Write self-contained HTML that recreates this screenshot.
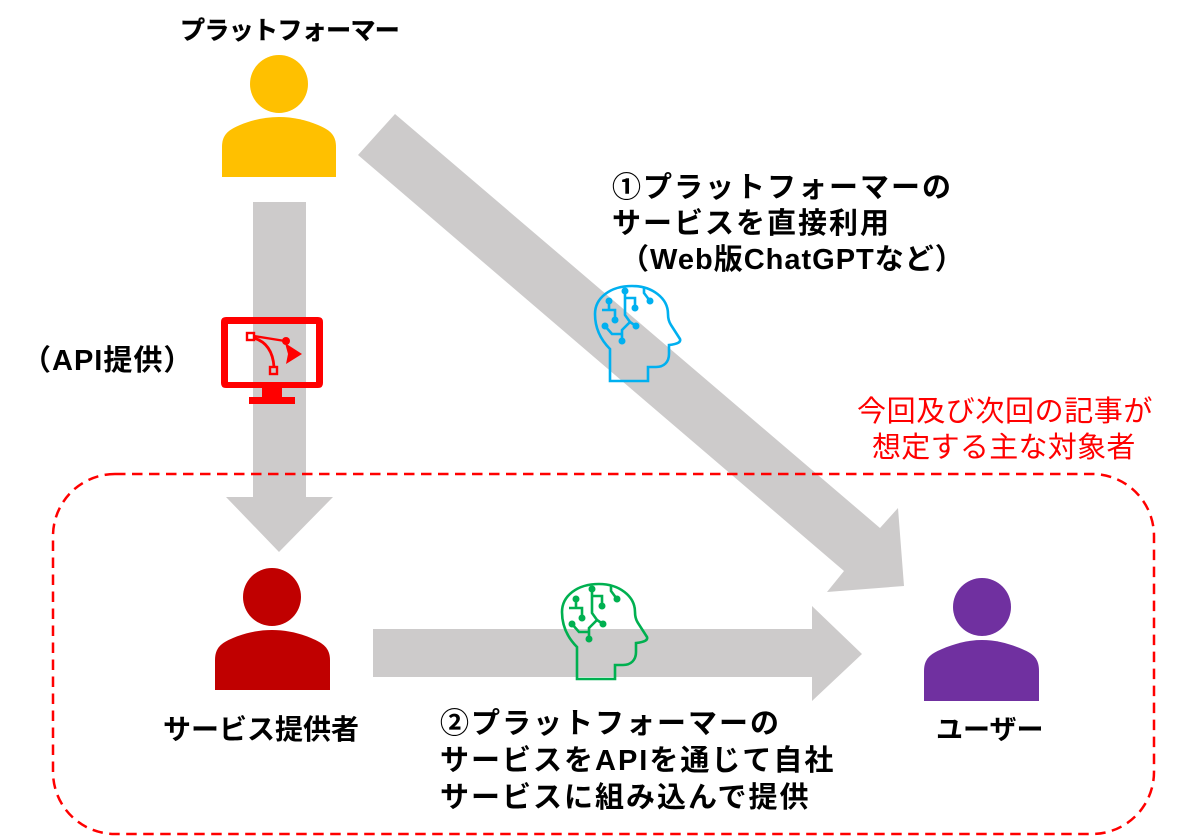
<!DOCTYPE html>
<html lang="ja"><head><meta charset="utf-8"><style>
html,body{margin:0;padding:0;background:#fff}
svg{display:block}
text{font-family:"Liberation Sans","Noto Sans CJK JP",sans-serif;fill:#000}
.b{font-weight:700;font-size:29px}
.r{fill:#f00;font-size:29px}
</style></head><body>
<svg width="1200" height="836" viewBox="0 0 1200 836" xmlns="http://www.w3.org/2000/svg">
<defs>
<g id="head" fill="none" stroke-width="2.6">
<path d="M610 381V349C601 340 595 328 595 314C595 298 610 286 632 286C652 286 668 298 668 314C668 319 669 322 671 325L680 339C681 342 678 344 669 345V354C669 362 664 367 656 367H648V381Z"/>
<path d="M602 310H615V320M609 301V310M625 291V315L630 322L622 330V341M625 298H635V308M605 326L612 334H622M630 322L636 326M644 288V293L650 301"/>
</g>
</defs>
<g fill="#cdcbcb">
<path d="M253 202H306V497H333L279 552L226 497H253Z"/>
<path d="M373 629H812V606L862 654L812 701V677H373Z"/>
<path d="M395 114L880 528L898 508L904 586L827 592L844 571L358 155Z"/>
</g>
<rect x="53" y="474" width="1101" height="360" rx="62" fill="none" stroke="#f00" stroke-width="2.5" stroke-dasharray="10.5 6.5"/>
<circle cx="279" cy="84" r="29" fill="#ffc000"/>
<path d="M222 177V147C222 135 228 130 240 125C252 120 265 117 279 117C293 117 306 120 318 125C330 130 336 135 336 147V177Z" fill="#ffc000"/>
<circle cx="272" cy="597" r="29" fill="#c00000"/>
<path d="M215 690V660C215 648 221 643 233 638C245 633 258 630 272 630C286 630 299 633 311 638C323 643 330 648 330 660V690Z" fill="#c00000"/>
<circle cx="982" cy="607" r="29" fill="#7030a0"/>
<path d="M924 701V671C924 659 930 654 942 649C954 644 967 640 982 640C997 640 1010 644 1022 649C1034 654 1039 659 1039 671V701Z" fill="#7030a0"/>
<g stroke="#00b0f0" fill="#00b0f0"><use href="#head" fill="none"/>
<g stroke="none"><circle cx="609" cy="301" r="3.5"/><circle cx="625" cy="291" r="3.5"/><circle cx="635" cy="308" r="3.5"/><circle cx="615" cy="320" r="3.5"/><circle cx="605" cy="326" r="3.5"/><circle cx="636" cy="326" r="3.5"/><circle cx="622" cy="341" r="3.5"/><circle cx="650" cy="301" r="3.5"/></g></g>
<g transform="translate(-33 298)" stroke="#00b050" fill="#00b050"><use href="#head" fill="none"/>
<g stroke="none"><circle cx="609" cy="301" r="3.5"/><circle cx="625" cy="291" r="3.5"/><circle cx="635" cy="308" r="3.5"/><circle cx="615" cy="320" r="3.5"/><circle cx="605" cy="326" r="3.5"/><circle cx="636" cy="326" r="3.5"/><circle cx="622" cy="341" r="3.5"/><circle cx="650" cy="301" r="3.5"/></g></g>
<path d="M221 322Q221 317 226 317H318Q323 317 323 322V383Q323 388 318 388H282V397H295V404H249V397H262V388H226Q221 388 221 383ZM228 324V382H316V324Z" fill="#f00" fill-rule="evenodd"/>
<g fill="none" stroke="#f00" stroke-width="2.4">
<rect x="247" y="333" width="7" height="7"/><rect x="270" y="367" width="7" height="7"/>
<path d="M254 336L285 341"/><path d="M254 338C267 342 273 352 274 367" stroke-width="2.8"/></g>
<path d="M285 343L302 354L286 364L288 354Z" fill="#f00"/><circle cx="286" cy="341" r="4" fill="#f00"/>
<g class="b">
<text x="180" y="39" style="font-size:25px;letter-spacing:-.65px" stroke="#000" stroke-width=".4">プラットフォーマー</text>
<text x="612" y="197" style="letter-spacing:2px">①プラットフォーマーの</text>
<text x="612" y="233" style="letter-spacing:2px">サービスを直接利用</text>
<text x="620" y="269" style="letter-spacing:1px">（Web版ChatGPTなど）</text>
<text x="22" y="370" style="letter-spacing:1px">（API提供）</text>
<text x="163" y="739" style="font-size:28px">サービス提供者</text>
<text x="936" y="739" style="font-size:27px">ユーザー</text>
<text x="440" y="733" style="letter-spacing:2px">②プラットフォーマーの</text>
<text x="440" y="770" style="letter-spacing:2px">サービスをAPIを通じて自社</text>
<text x="440" y="807" style="letter-spacing:2px">サービスに組み込んで提供</text>
</g>
<text class="r" x="857" y="421" style="letter-spacing:.6px">今回及び次回の記事が</text>
<text class="r" x="872" y="457" style="letter-spacing:.3px">想定する主な対象者</text>
</svg>
</body></html>
